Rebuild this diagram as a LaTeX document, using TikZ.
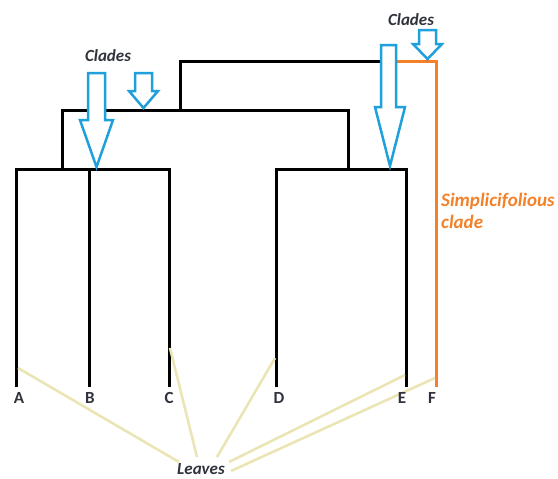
\documentclass[tikz,border=0pt]{standalone}
\usepackage{fontspec}
\setmainfont{Carlito}
\usetikzlibrary{shapes,arrows,positioning}
\definecolor{cladeblue}{HTML}{1F9FDB}
\definecolor{simporange}{HTML}{F28129}
\definecolor{leafbeige}{HTML}{EBE5B5}
\definecolor{labelgray}{HTML}{30323C}

\begin{document}
\begin{tikzpicture}[x=1pt,y=-1pt,
       branch/.style={line width=3pt,draw=black},
       simpline/.style={line width=3pt,draw=simporange},
       leafline/.style={line width=2.6pt,draw=leafbeige},
       cladearrow/.style={line width=2.5pt,draw=cladeblue,fill=white,line join=miter},
       tiplabel/.style={font=\fontsize{17}{17}\selectfont\bfseries,text=labelgray,inner sep=0pt},
       notelabel/.style={font=\fontsize{17}{21}\selectfont\bfseries\itshape,text=labelgray,inner sep=0pt}]

       \useasboundingbox (0,0) rectangle (558,479);

       % tips
       \coordinate (ta) at (16,387);
       \coordinate (tb) at (89,387);
       \coordinate (tc) at (169,387);
       \coordinate (td) at (276,387);
       \coordinate (te) at (406,387);
       \coordinate (tf) at (436,387);

       % tree
       \draw [branch] (ta) |- (169,169) -- (tc);
       \draw [branch] (89,169) -- (tb);
       \draw [branch] (td) |- (406,169) -- (te);
       \draw [branch] (62,169) |- (348,110) -- (348,169);
       \draw [branch] (180,110) |- (380,61);
       \draw [simpline] (380,61) -| (tf);

       % clade arrows
       \draw [cladearrow] (88,73) -- (105,73) -- (105,120) -- (113,120) -- (96.5,167) -- (80,120) -- (88,120) -- cycle;
       \draw [cladearrow] (135,73) -- (152,73) -- (152,91) -- (158,91) -- (143.5,108) -- (129,91) -- (135,91) -- cycle;
       \draw [cladearrow] (381,45) -- (396,45) -- (396,107) -- (405,107) -- (390,166) -- (375,107) -- (381,107) -- cycle;
       \draw [cladearrow] (419,30) -- (436,30) -- (436,44) -- (442,44) -- (427.5,59) -- (413,44) -- (419,44) -- cycle;

       % leaf pointers
       \node [notelabel] (leaves) at (201,469) {Leaves};
       \coordinate (pa) at (18,368);
       \coordinate (pc) at (170,348);
       \coordinate (pd) at (275,358);
       \coordinate (pe) at (405,375);
       \coordinate (pf) at (435,378);
       \coordinate (la) at (179,462);
       \coordinate (lc) at (197,457);
       \coordinate (ld) at (217,457);
       \coordinate (le) at (229,462);
       \coordinate (lf) at (231,471);
       \draw [leafline] (la) -- (pa);
       \draw [leafline] (lc) -- (pc);
       \draw [leafline] (ld) -- (pd);
       \draw [leafline] (le) -- (pe);
       \draw [leafline] (lf) -- (pf);

       % labels
       \node [notelabel] (cladesleft) at (108,56) {Clades};
       \node [notelabel] (cladesright) at (411,20) {Clades};
       \node [notelabel,font=\fontsize{19}{22}\selectfont\bfseries\itshape,text=simporange,align=left,anchor=north west] (simpclade) at (441,193) {Simplicifolious\\clade};

       \node [tiplabel] (A) at (19,398) {A};
       \node [tiplabel] (B) at (90,398) {B};
       \node [tiplabel] (C) at (169,398) {C};
       \node [tiplabel] (D) at (279,398) {D};
       \node [tiplabel] (E) at (402,398) {E};
       \node [tiplabel] (F) at (432,398) {F};
\end{tikzpicture}
\end{document}
